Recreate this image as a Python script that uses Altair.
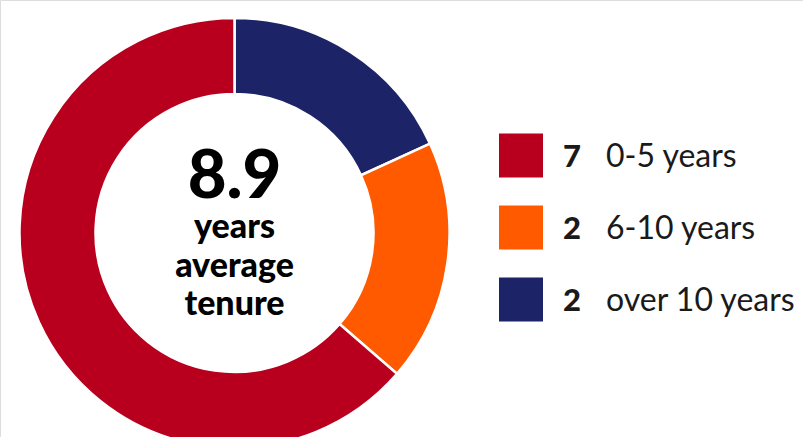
import altair as alt
import pandas as pd

categories = ["over 10 years", "6-10 years", "0-5 years"]
counts = [2, 2, 7]
colors = ["#1C2366", "#FF5A00", "#B8001E"]
order = [1, 2, 3]

legend_categories = ["0-5 years", "6-10 years", "over 10 years"]
legend_counts = [7, 2, 2]

center_value = "8.9"
center_lines = "years\naverage\ntenure"

df = pd.DataFrame({"cat": categories, "count": counts, "ord": order})
leg = pd.DataFrame({"cat": legend_categories, "count": legend_counts})

color_scale = alt.Scale(domain=categories, range=colors)
cx, cy = 234.5, 233

arcs = alt.Chart(df).mark_arc(
    radius=215, radius2=139, stroke="white", strokeWidth=2.5
).encode(
    theta=alt.Theta("count:Q", stack=True),
    order=alt.Order("ord:Q"),
    color=alt.Color("cat:N", scale=color_scale, legend=None),
    x=alt.value(cx), y=alt.value(cy),
)

big = alt.Chart(pd.DataFrame({"t": [center_value]})).mark_text(
    font="Lato", fontWeight=900, fontSize=67, color="black",
    align="center", baseline="alphabetic"
).encode(text="t:N", x=alt.value(cx), y=alt.value(198))

small = alt.Chart(pd.DataFrame({"t": [center_lines]})).mark_text(
    font="Lato", fontWeight=900, fontSize=34, color="black",
    align="center", baseline="alphabetic", lineBreak="\n", lineHeight=38.5
).encode(text="t:N", x=alt.value(cx), y=alt.value(238))

ypos = alt.Y("cat:N", scale=alt.Scale(type="point", domain=legend_categories,
                                      range=[155.5, 299.5], padding=0), axis=None)

squares = alt.Chart(leg).mark_square(size=44 * 44, opacity=1).encode(
    x=alt.value(521), y=ypos,
    color=alt.Color("cat:N", scale=color_scale, legend=None),
)

nums = alt.Chart(leg).mark_text(
    font="Lato", fontWeight=900, fontSize=31, color="#1a1a1a",
    align="left", baseline="alphabetic", dy=11.5
).encode(x=alt.value(563), y=ypos, text="count:Q")

labels = alt.Chart(leg).mark_text(
    font="Lato", fontWeight=400, fontSize=32, color="#1a1a1a",
    align="left", baseline="alphabetic", dy=11.5
).encode(x=alt.value(606), y=ypos, text="cat:N")

chart = alt.layer(arcs, big, small, squares, nums, labels).properties(
    width=803, height=437, padding=0, autosize=alt.AutoSizeParams(type="none")
).configure_view(stroke=None).configure(background="white")

chart.save("out.html", embed_options={"renderer": "svg", "actions": False})
